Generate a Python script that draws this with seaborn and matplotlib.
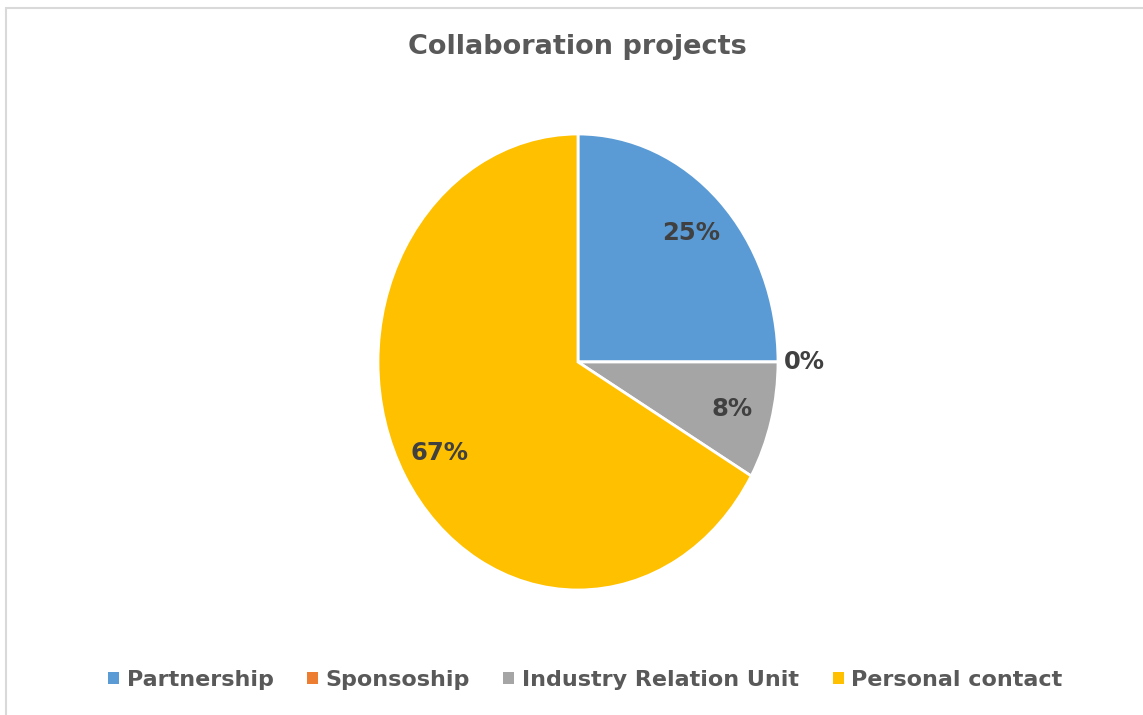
import numpy as np
import matplotlib.pyplot as plt
from matplotlib.patches import Rectangle, Patch
import seaborn as sns

categories = ["Partnership", "Sponsoship", "Industry Relation Unit", "Personal contact"]
counts = [3, 0, 1, 8]
colors = ["#5B9BD5", "#ED7D31", "#A5A5A5", "#FFC000"]
title = "Collaboration projects"

TEXT = "#595959"

sns.set_theme(style="white")
plt.rcParams["font.family"] = ["DejaVu Sans"]

fig = plt.figure(figsize=(11.43, 7.15), dpi=100)

# light frame like the spreadsheet chart area
fig.patches.append(Rectangle((6 / 1143, -0.05), 1.2, 1 - 8 / 715 + 0.05,
                             transform=fig.transFigure, fill=False,
                             edgecolor="#d9d9d9", lw=1.5))

ax = fig.add_axes([378 / 1143, 1 - 590 / 715, 400 / 1143, 456 / 715])
wedges, texts, autotexts = ax.pie(
    counts, colors=colors, startangle=90, counterclock=False,
    autopct="%1.0f%%", pctdistance=0.8,
    wedgeprops=dict(edgecolor="white", linewidth=2),
    textprops=dict(color="#404040", fontsize=17.5, fontweight="bold"),
)
ax.set_aspect("auto")
ax.set_xlim(-1, 1)
ax.set_ylim(-1, 1)

# zero-size slice: label sits just outside the pie
for w, t, c in zip(wedges, autotexts, counts):
    if c == 0:
        ang = np.deg2rad(w.theta1)
        t.set_position((1.03 * np.cos(ang), 1.03 * np.sin(ang)))
        t.set_ha("left")

fig.text(0.505, 0.934, title, ha="center", va="center",
         fontsize=19.5, fontweight="bold", color=TEXT)

handles = [Patch(facecolor=c, edgecolor="none") for c in colors]
leg = fig.legend(handles, categories, loc="center", bbox_to_anchor=(0.512, 0.049),
                 ncol=4, frameon=False, handlelength=0.5, handleheight=0.5,
                 handletextpad=0.35, columnspacing=1.5,
                 prop=dict(size=16, weight="bold"))
for t in leg.get_texts():
    t.set_color(TEXT)

fig.savefig("out.png", dpi=100, facecolor="white")
